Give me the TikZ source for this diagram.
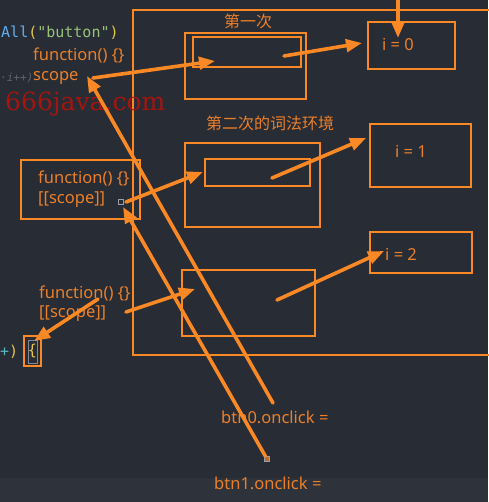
\documentclass[tikz,border=0pt]{standalone}
\usepackage{fontspec}
\setmainfont{Noto Sans}
\newfontfamily\cjk{Noto Sans CJK SC}
\newfontfamily\codefont{DejaVu Sans Mono}
\newfontfamily\wmfont{DejaVu Serif}
\usetikzlibrary{arrows.meta}
\definecolor{bg}{RGB}{40,44,52}
\definecolor{bgstrip}{RGB}{46,50,58}
\definecolor{org}{RGB}{250,136,36}
\definecolor{orgtxt}{RGB}{236,128,42}
\definecolor{codeblue}{RGB}{97,175,239}
\definecolor{codeyel}{RGB}{232,200,70}
\definecolor{codegreen}{RGB}{152,195,121}
\definecolor{codecyan}{RGB}{86,182,194}
\definecolor{faint}{RGB}{95,100,112}
\definecolor{wmred}{RGB}{180,18,12}
\definecolor{mark}{RGB}{150,160,175}
\begin{document}
\begin{tikzpicture}[x=1pt,y=-1pt,
  box/.style={draw=org, line width=1.6pt, inner sep=0pt, outer sep=0pt, anchor=north west},
  arr/.style={draw=org, line width=3.6pt, line cap=round, -{Triangle[length=16pt,width=12.5pt]}},
  lab/.style={text=orgtxt, font=\fontsize{16.5}{18}\selectfont, inner sep=0pt, anchor=west},
  cjklab/.style={text=orgtxt, font=\cjk\fontsize{16}{18}\selectfont, inner sep=0pt},
  code/.style={font=\codefont\fontsize{15}{17}\selectfont, inner sep=0pt, anchor=west},
  marker/.style={draw=mark, fill=bg, line width=0.8pt, minimum size=5pt, inner sep=0pt},
]
\useasboundingbox (0,0) rectangle (488,502);
\fill[bg] (0,0) rectangle (488,502);
\fill[bgstrip] (0,478) rectangle (488,502);

% outer region
\node[box, minimum width=360pt, minimum height=345pt] (outer) at (133,10) {};

% first environment
\node[cjklab] (t1) at (248,21) {第一次};
\node[box, minimum width=121pt, minimum height=66pt] (A1) at (185,33) {};
\node[box, minimum width=108pt, minimum height=30pt] (A2) at (193,37) {};
\node[box, minimum width=87pt, minimum height=47pt] (I0) at (368,22) {};
\node[lab, anchor=center] (i0) at (398,45) {i = 0};

% second environment
\node[cjklab] (t2) at (270,123) {第二次的词法环境};
\node[box, minimum width=135pt, minimum height=84pt] (B1) at (185,143) {};
\node[box, minimum width=105pt, minimum height=27pt] (B2) at (205,159) {};
\node[box, minimum width=101pt, minimum height=63pt] (I1) at (370,124) {};
\node[lab, anchor=center] (i1) at (411,151) {i = 1};

% third environment
\node[box, minimum width=133pt, minimum height=66pt] (C1) at (182,270) {};
\node[box, minimum width=102pt, minimum height=41pt] (I2) at (370,232) {};
\node[lab] (i2) at (385,254) {i = 2};

% code fragments on the left
\node[code] (codeA) at (1,33) {\textcolor{codeblue}{All}\textcolor{codeyel}{(}\textcolor{codegreen}{"button"}\textcolor{codeyel}{)}};
\node[lab] (f1) at (33,55) {function() \{\}};
\node[code, text=faint, font=\codefont\itshape\fontsize{11}{13}\selectfont] (ipp) at (0,78) {·i++)};
\node[lab] (s1) at (33,78) {scope};
\node[text=wmred, font=\wmfont\fontsize{25}{28}\selectfont, inner sep=0pt, anchor=west, opacity=0.9] (wm) at (5,104) {666java.com};

\node[box, minimum width=119pt, minimum height=59pt] (F2) at (21,160) {};
\node[lab] (f2) at (38,178) {function() \{\}};
\node[lab] (s2) at (38,200) {[[scope]]};
\node[marker] (m1) at (121,202) {};

\node[lab] (f3) at (39,293) {function() \{\}};
\node[lab] (s3) at (39,314) {[[scope]]};

\node[code] (plus) at (0,352) {\textcolor{codecyan}{+}\textcolor{codeyel}{)}};
\node[box, minimum width=17pt, minimum height=30pt] (brbox) at (24,336) {};
\node[draw=mark!80!bg, line width=0.8pt, inner sep=0pt, minimum width=9pt, minimum height=23pt, anchor=north west] (brin) at (28,340) {};
\node[code, anchor=center, text=codeyel] (brace) at (32.5,351) {\{};

\node[lab] (b0) at (221,417) {btn0.onclick =};
\node[lab] (b1) at (214,483) {btn1.onclick =};
\node[marker, draw=mark, fill=org!70!bg] (m2) at (267,459) {};

% arrow end points
\coordinate (top0) at (398,-5);
\coordinate (i0tip) at (398,38);
\coordinate (a2tip) at (215,61);
\coordinate (a2src) at (284,56);
\coordinate (i0in) at (362,43);
\coordinate (b2tip) at (203,172);
\coordinate (b2src) at (272,178);
\coordinate (i1in) at (366,138);
\coordinate (c1tip) at (195,289);
\coordinate (c1src) at (277,300);
\coordinate (i2in) at (384,251);
\coordinate (s1src) at (93,78);
\coordinate (s1tip) at (87,76);
\coordinate (s2src) at (126,202);
\coordinate (s3src) at (126,312);
\coordinate (f3src) at (98,299);
\coordinate (brtip) at (34,341);
\coordinate (b0src) at (273,403);
\coordinate (m1tip) at (123,207);

% connectors
\draw[arr] (top0) -- (i0tip);
\draw[arr] (s1src) -- (a2tip);
\draw[arr] (a2src) -- (i0in);
\draw[arr] (s2src) -- (b2tip);
\draw[arr] (b2src) -- (i1in);
\draw[arr] (s3src) -- (c1tip);
\draw[arr] (c1src) -- (i2in);
\draw[arr] (f3src) -- (brtip);
\draw[arr] (b0src) -- (s1tip);
\draw[arr] (m2) -- (m1tip);
\end{tikzpicture}
\end{document}
